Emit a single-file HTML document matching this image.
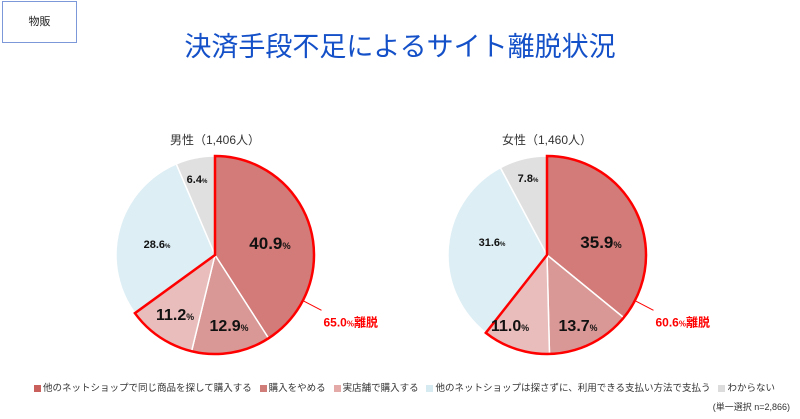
<!DOCTYPE html>
<html><head><meta charset="utf-8">
<style>
body{margin:0;width:800px;height:419px;background:#fff;overflow:hidden;font-family:"Liberation Sans","Noto Sans CJK JP",sans-serif;}
.box{position:absolute;left:2px;top:1px;width:73px;height:40px;border:1px solid #7d98d8;font-size:11px;line-height:40px;text-align:center;color:#222;}
.title{position:absolute;left:0;width:800px;top:25px;text-align:center;font-size:27px;color:#1450c8;letter-spacing:0px;}
.leg{position:absolute;top:380px;left:34px;font-size:9.5px;color:#333;white-space:nowrap;}
.leg i{display:inline-block;width:7px;height:7px;margin-right:2px;vertical-align:-1px;}
.note{position:absolute;top:400px;right:10px;font-size:9px;color:#333;}
</style></head><body>
<div class="box">物販</div>
<div class="title">決済手段不足によるサイト離脱状況</div>
<svg id="s" width="800" height="419" style="position:absolute;left:0;top:0" font-family="Liberation Sans, Noto Sans CJK JP, sans-serif"></svg>
<div class="leg"><i style="background:#c9605c"></i>他のネットショップで同じ商品を探して購入する &nbsp; <i style="background:#d07c79"></i>購入をやめる &nbsp; <i style="background:#e4aaa8"></i>実店舗で購入する &nbsp; <i style="background:#d5eaf1"></i>他のネットショップは探さずに、利用できる支払い方法で支払う &nbsp; <i style="background:#dcdcdc"></i>わからない</div>
<div class="note">(単一選択 n=2,866)</div>
<script>
const cols=['#d27b78','#d99895','#e8bdbb','#ddeef4','#e0e0e0'];
function pie(cx,cy,r,vals,labs,sum,tit,lblPos,lblSizes){
 let s='',a=0;const tot=vals.reduce((x,y)=>x+y,0);
 const pt=(ang,rr)=>[cx+rr*Math.sin(ang),cy-rr*Math.cos(ang)];
 vals.forEach((v,i)=>{const a0=a,a1=a+v/tot*2*Math.PI;a=a1;
  const p0=pt(a0,r),p1=pt(a1,r),lg=(a1-a0)>Math.PI?1:0;
  s+=`<path d="M${cx},${cy}L${p0}A${r},${r} 0 ${lg} 1 ${p1}Z" fill="${cols[i]}" stroke="#fff" stroke-width="1.5"/>`;});
 const e=(vals[0]+vals[1]+vals[2])/tot*2*Math.PI,pe=pt(e,r),lg=e>Math.PI?1:0;
 s+=`<path d="M${cx},${cy}L${cx},${cy-r}A${r},${r} 0 ${lg} 1 ${pe}Z" fill="none" stroke="#f00" stroke-width="2.5" stroke-linejoin="miter"/>`;
 s+=`<text x="${cx}" y="${cy-r-12}" font-size="12" text-anchor="middle" fill="#333">${tit}</text>`;
 labs.forEach((l,i)=>{const [x,y]=lblPos[i],fs=lblSizes[i];
  s+=`<text x="${x}" y="${y}" font-size="${fs}" font-weight="bold" text-anchor="middle" fill="#111">${l}<tspan font-size="${fs*0.55}">%</tspan></text>`;});
 const q1=pt(2.05,r+1),q2=pt(2.05,r+21);
 s+=`<line x1="${q1[0]}" y1="${q1[1]}" x2="${q2[0]}" y2="${q2[1]}" stroke="#f00" stroke-width="1"/>`;
 s+=`<text x="${q2[0]+2}" y="${q2[1]+16}" font-size="12" font-weight="bold" fill="#f00">${sum}<tspan font-size="8">%</tspan>離脱</text>`;
 return s;}
document.getElementById('s').innerHTML=
 pie(215,255,99,[40.9,12.9,11.2,28.6,6.4],['40.9','12.9','11.2','28.6','6.4'],'65.0','男性（1,406人）',[[270,249],[229,331],[175,320],[157,248],[197,183]],[17,16,16,11,11])+
 pie(547,255,99,[35.9,13.7,11.0,31.6,7.8],['35.9','13.7','11.0','31.6','7.8'],'60.6','女性（1,460人）',[[601,248],[578,331],[510,331],[492,246],[528,182]],[17,16,16,11,11]);
</script>
</body></html>
